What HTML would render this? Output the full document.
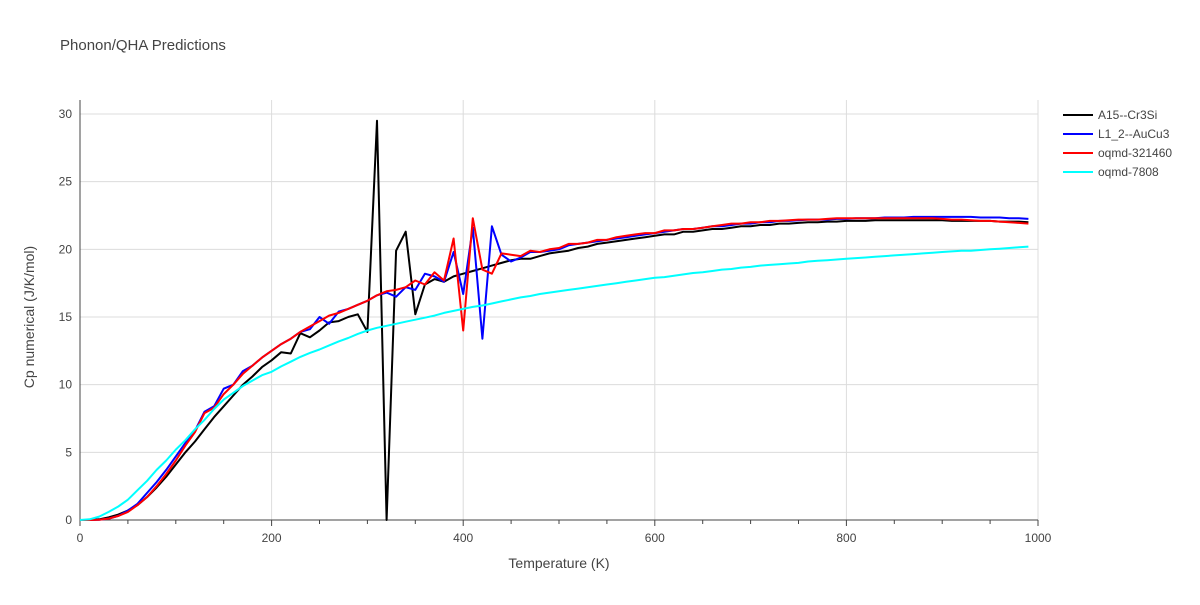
<!DOCTYPE html>
<html><head><meta charset="utf-8"><style>
body{margin:0;background:#fff;font-family:"Liberation Sans",sans-serif}
svg text{font-family:"Liberation Sans",sans-serif}
</style></head><body>
<svg id="chart" width="1200" height="600" xmlns="http://www.w3.org/2000/svg">
<rect width="1200" height="600" fill="#fff"/>
<text x="60" y="50" font-size="15" fill="#444">Phonon/QHA Predictions</text>
<g id="grid"></g>
<g id="axes"></g>
<g id="series"></g>
<text x="559" y="568" font-size="14" fill="#444" text-anchor="middle">Temperature (K)</text>
<text transform="translate(34,317) rotate(-90)" font-size="14" fill="#444" text-anchor="middle">Cp numerical (J/K/mol)</text>
<g id="legend"></g>
</svg>
<script>
const xTicks=[0,200,400,600,800,1000];
const yTicks=[0,5,10,15,20,25,30];
const seriesNames=["A15--Cr3Si","L1_2--AuCu3","oqmd-321460","oqmd-7808"];
const seriesColors=["#000000","#0000ff","#ff0000","#00ffff"];
const temps=[];for(let i=0;i<100;i++)temps.push(i*10);
const cpA15=[0,0,0.05,0.2,0.4,0.7,1.1,1.7,2.4,3.2,
4.1,5.0,5.8,6.7,7.6,8.4,9.2,10.0,10.6,11.3,
11.8,12.4,12.3,13.8,13.5,14.0,14.6,14.7,15.0,15.2,
13.9,29.5,0,19.9,21.3,15.2,17.4,17.8,17.6,18.0,
18.2,18.4,18.6,18.8,19.0,19.2,19.3,19.3,19.5,19.7,
19.8,19.9,20.1,20.2,20.4,20.5,20.6,20.7,20.8,20.9,
21.0,21.1,21.1,21.3,21.3,21.4,21.5,21.5,21.6,21.7,
21.7,21.8,21.8,21.9,21.9,21.95,22.0,22.0,22.05,22.05,
22.1,22.1,22.1,22.15,22.15,22.15,22.15,22.15,22.15,22.15,
22.15,22.1,22.1,22.1,22.1,22.1,22.05,22.05,22.05,22.0];
const cpL12=[0,0,0.02,0.1,0.3,0.7,1.2,2.0,2.8,3.7,
4.7,5.7,6.6,8.0,8.4,9.7,10.0,11.0,11.4,12.0,
12.5,13.0,13.4,13.9,14.1,15.0,14.5,15.4,15.6,15.9,
16.2,16.6,16.8,16.5,17.2,17.0,18.2,18.0,17.6,19.8,
16.7,21.6,13.4,21.7,19.6,19.1,19.4,19.8,19.8,19.9,
20.0,20.3,20.4,20.5,20.6,20.7,20.8,20.9,21.0,21.1,
21.2,21.3,21.4,21.5,21.5,21.6,21.7,21.7,21.8,21.9,
21.9,22.0,22.0,22.1,22.1,22.15,22.2,22.2,22.2,22.25,
22.25,22.3,22.3,22.3,22.35,22.35,22.35,22.4,22.4,22.4,
22.4,22.4,22.4,22.4,22.35,22.35,22.35,22.3,22.3,22.25];
const cpOqmd321460=[0,0,0.02,0.1,0.3,0.6,1.1,1.7,2.5,3.4,
4.4,5.5,6.5,7.9,8.3,9.3,10.0,10.8,11.4,12.0,
12.5,13.0,13.4,13.9,14.3,14.7,15.1,15.3,15.6,15.9,
16.2,16.6,16.9,17.0,17.2,17.7,17.4,18.3,17.7,20.8,
14.0,22.3,18.5,18.2,19.7,19.6,19.5,19.9,19.8,20.0,
20.1,20.4,20.4,20.5,20.7,20.7,20.9,21.0,21.1,21.2,
21.2,21.4,21.4,21.5,21.5,21.6,21.7,21.8,21.9,21.9,
22.0,22.0,22.1,22.1,22.15,22.2,22.2,22.2,22.25,22.3,
22.3,22.3,22.3,22.3,22.3,22.3,22.3,22.3,22.3,22.3,
22.25,22.2,22.2,22.15,22.1,22.1,22.05,22.0,21.95,21.9];
const cpOqmd7808=[0,0.05,0.25,0.6,1.0,1.5,2.2,2.9,3.7,4.4,
5.2,5.9,6.7,7.4,8.2,8.9,9.4,9.9,10.3,10.7,
10.95,11.35,11.7,12.05,12.35,12.6,12.9,13.2,13.45,13.75,
14.0,14.2,14.35,14.5,14.65,14.8,14.95,15.1,15.3,15.45,
15.6,15.75,15.85,16.0,16.15,16.3,16.45,16.55,16.7,16.8,
16.9,17.0,17.1,17.2,17.3,17.4,17.5,17.6,17.7,17.8,
17.9,17.95,18.05,18.15,18.25,18.3,18.4,18.5,18.55,18.65,
18.7,18.8,18.85,18.9,18.95,19.0,19.1,19.15,19.2,19.25,
19.3,19.35,19.4,19.45,19.5,19.55,19.6,19.65,19.7,19.75,
19.8,19.85,19.9,19.9,19.95,20.0,20.05,20.1,20.15,20.2];
const allSeries=[cpA15,cpL12,cpOqmd321460,cpOqmd7808];

const X0=80,X1=1038,Y0=520,Y1=114;
function sx(t){return X0+(t-0)/(1000-0)*(X1-X0);}
function sy(v){return Y0-(v-0)/(30-0)*(Y0-Y1);}
const NS="http://www.w3.org/2000/svg";
function mk(tag,attrs,parent){const e=document.createElementNS(NS,tag);for(const k in attrs)e.setAttribute(k,attrs[k]);parent.appendChild(e);return e;}
const grid=document.getElementById('grid'),axes=document.getElementById('axes'),ser=document.getElementById('series'),leg=document.getElementById('legend');
xTicks.forEach(t=>{
  if(t>0){const g=mk('line',{x1:sx(t),x2:sx(t),y1:100,y2:Y0,stroke:'#dcdcdc','stroke-width':1},grid);
  
  }
  const l=mk('text',{x:sx(t),y:Y0+22,'font-size':12,fill:'#444','text-anchor':'middle'},axes);l.textContent=t;
  
  
});
for(let t=0;t<=1000;t+=50){const tk=mk('line',{x1:sx(t),x2:sx(t),y1:Y0,y2:Y0+(t%200===0?6:4),stroke:'#444'},axes);
  
  }
yTicks.forEach(v=>{
  if(v>0){const g=mk('line',{x1:X0,x2:X1,y1:sy(v),y2:sy(v),stroke:'#dcdcdc','stroke-width':1},grid);
  
  }
  const l=mk('text',{x:X0-8,y:sy(v)+4,'font-size':12,fill:'#444','text-anchor':'end'},axes);l.textContent=v;
  
  
});
const xa=mk('line',{x1:X0,x2:X1,y1:Y0,y2:Y0,stroke:'#444'},axes);


const ya=mk('line',{x1:X0,x2:X0,y1:100,y2:Y0,stroke:'#444'},axes);


allSeries.forEach((arr,i)=>{
  const d=arr.map((v,j)=>(j?'L':'M')+sx(temps[j]).toFixed(1)+','+sy(v).toFixed(1)).join('');
  const p=mk('path',{d:d,fill:'none',stroke:seriesColors[i],'stroke-width':2,'stroke-linejoin':'round'},ser);
  
  
  const ly=115+i*19;
  const ll=mk('line',{x1:1063,x2:1093,y1:ly,y2:ly,stroke:seriesColors[i],'stroke-width':2},leg);
  
  
  const lt=mk('text',{x:1098,y:ly+4,'font-size':12,fill:'#444'},leg);lt.textContent=seriesNames[i];
  
  
});
</script>
</body></html>
